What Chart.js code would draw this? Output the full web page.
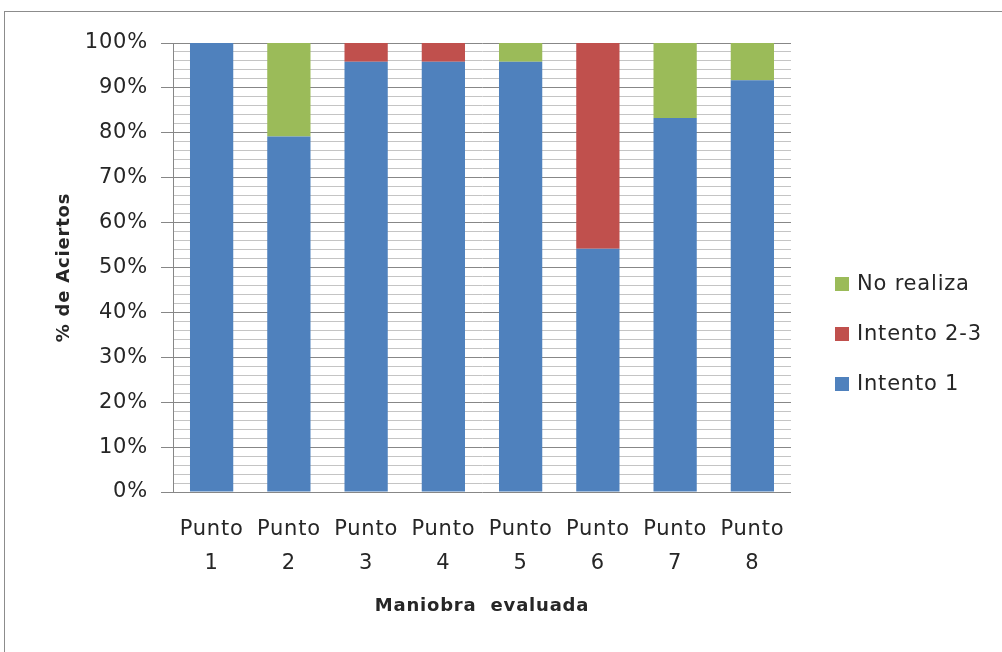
<!DOCTYPE html>
<html>
<head>
<meta charset="utf-8">
<script src="https://cdn.jsdelivr.net/npm/chart.js@4.4.1/dist/chart.umd.min.js"></script>
<style>
  html, body { margin: 0; padding: 0; background: #ffffff; overflow: hidden; }
  #frame { position: absolute; left: 4px; top: 11px; width: 1100px; height: 700px;
           border: 1px solid #8c8c8c; box-sizing: border-box; }
  #wrap { position: absolute; left: 0; top: 0; width: 1002px; height: 652px; }
</style>
</head>
<body>
<div id="frame"></div>
<div id="wrap"><canvas id="chart" width="1002" height="652"></canvas></div>
<script>
// Categories and series (percent of attempts per checkpoint)
const categories = [["Punto", "1"], ["Punto", "2"], ["Punto", "3"], ["Punto", "4"],
                    ["Punto", "5"], ["Punto", "6"], ["Punto", "7"], ["Punto", "8"]];
const intento1   = [100, 79.2, 95.8, 95.8, 95.8, 54.2, 83.3, 91.7];
const intento23  = [0, 0, 4.2, 4.2, 0, 45.8, 0, 0];
const noRealiza  = [0, 20.8, 0, 0, 4.2, 0, 16.7, 8.3];
const seriesNames = ["Intento 1", "Intento 2-3", "No realiza"];
const yTickStep = 2;      // minor grid spacing
const yLabelStep = 10;    // labelled (major) grid spacing

const FONT = "'DejaVu Sans', Verdana, sans-serif";
const TEXT = "#262626";

// Slightly looser letter spacing for all chart text
const textSpacing = {
  id: "textSpacing",
  beforeDraw(chart) { chart.ctx.letterSpacing = "0.8px"; }
};

// Legend drawn to the right of the plot, top entry = last series
const sideLegend = {
  id: "sideLegend",
  afterDraw(chart) {
    const ctx = chart.ctx;
    const ds = chart.data.datasets.slice().reverse();
    const x0 = chart.chartArea.right + 44;
    const y0 = 284;
    ctx.save();
    ctx.font = "21px " + FONT;
    ctx.textBaseline = "middle";
    ctx.textAlign = "left";
    ds.forEach((d, i) => {
      const y = y0 + i * 50;
      ctx.fillStyle = d.backgroundColor;
      ctx.fillRect(x0, y - 7, 14, 14);
      ctx.fillStyle = TEXT;
      ctx.fillText(d.label, x0 + 22, y + 1);
    });
    ctx.restore();
  }
};

new Chart(document.getElementById("chart"), {
  type: "bar",
  data: {
    labels: categories,
    datasets: [
      { label: seriesNames[0], data: intento1,  backgroundColor: "#4f81bd" },
      { label: seriesNames[1], data: intento23, backgroundColor: "#c0504d" },
      { label: seriesNames[2], data: noRealiza, backgroundColor: "#9bbb59" }
    ]
  },
  options: {
    responsive: false,
    animation: false,
    layout: { padding: { top: 43, right: 211, bottom: 0, left: 0 } },
    datasets: { bar: { categoryPercentage: 1, barPercentage: 0.56, borderWidth: 0 } },
    plugins: { legend: { display: false }, tooltip: { enabled: false } },
    scales: {
      x: {
        stacked: true,
        grid: { display: false, drawTicks: false },
        border: { display: false },
        ticks: { color: TEXT, padding: 21, maxRotation: 0, autoSkip: false,
                 font: { family: FONT, size: 21, lineHeight: 1.62 } },
        title: { display: true, text: "Maniobra  evaluada", color: TEXT,
                 font: { family: FONT, size: 18, weight: "bold" },
                 padding: { top: 0, bottom: 35 } },
        afterFit(scale) { scale.height = 160; }
      },
      y: {
        stacked: true,
        min: 0, max: 100,
        grid: {
          color: c => (c.tick && c.tick.value % yLabelStep === 0) ? "#878787" : "#c4c4c4",
          tickColor: c => (c.tick && c.tick.value % yLabelStep === 0) ? "#878787" : "rgba(0,0,0,0)",
          tickLength: 12,
          lineWidth: 1
        },
        border: { display: true, color: "#878787" },
        ticks: {
          stepSize: yTickStep,
          autoSkip: false,
          padding: 13,
          color: TEXT,
          font: { family: FONT, size: 21 },
          callback: v => (v % yLabelStep === 0) ? v + "%" : ""
        },
        title: { display: true, text: "% de Aciertos", color: TEXT,
                 font: { family: FONT, size: 18, weight: "bold" },
                 padding: { top: 54, bottom: 0 } },
        afterFit(scale) { scale.width = 173; }
      }
    }
  },
  plugins: [textSpacing, sideLegend]
});
</script>
</body>
</html>
